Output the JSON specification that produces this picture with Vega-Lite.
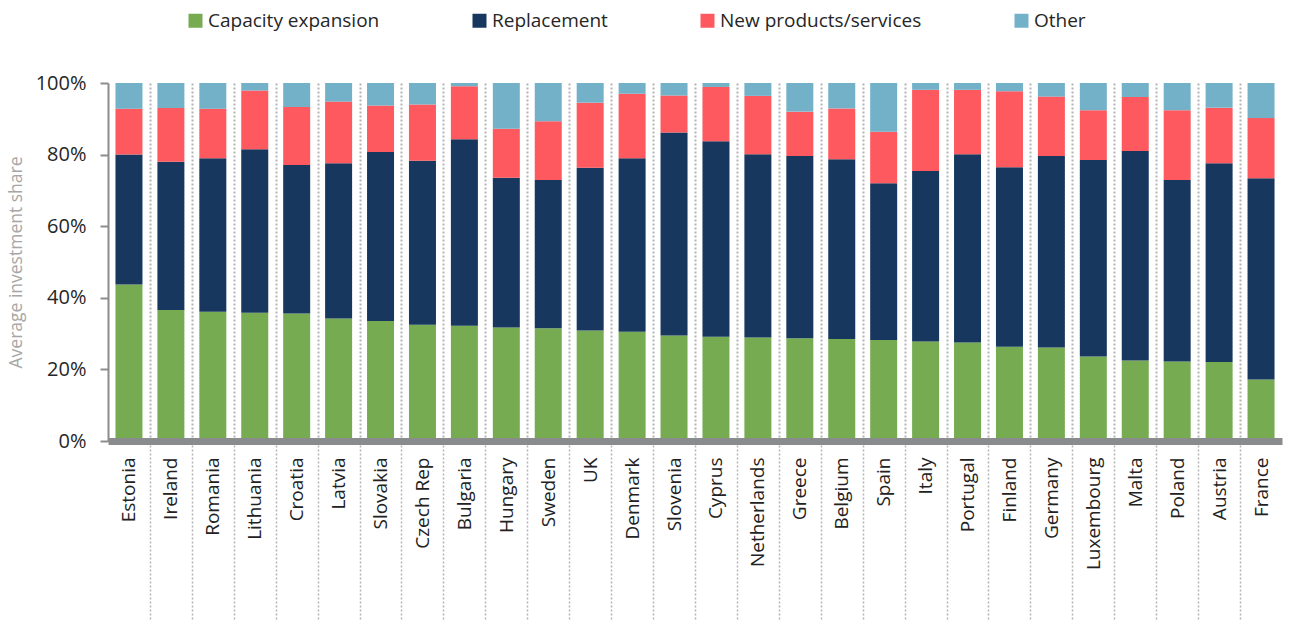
{
  "$schema": "https://vega.github.io/schema/vega-lite/v6.json",
  "autosize": {"type": "none"},
  "width": 1174,
  "height": 358,
  "padding": {"left": 108, "top": 83, "right": 7, "bottom": 180},
  "background": "white",
  "config": {"view": {"stroke": null}, "font": "Open Sans"},
  "data": {
    "values": [
      {"country": "Estonia", "Capacity expansion": 43.7, "Replacement": 36.3, "New products/services": 12.8, "Other": 7.2},
      {"country": "Ireland", "Capacity expansion": 36.6, "Replacement": 41.4, "New products/services": 15.0, "Other": 7.0},
      {"country": "Romania", "Capacity expansion": 36.1, "Replacement": 42.9, "New products/services": 13.8, "Other": 7.2},
      {"country": "Lithuania", "Capacity expansion": 35.8, "Replacement": 45.7, "New products/services": 16.4, "Other": 2.1},
      {"country": "Croatia", "Capacity expansion": 35.6, "Replacement": 41.5, "New products/services": 16.2, "Other": 6.7},
      {"country": "Latvia", "Capacity expansion": 34.2, "Replacement": 43.4, "New products/services": 17.2, "Other": 5.2},
      {"country": "Slovakia", "Capacity expansion": 33.5, "Replacement": 47.2, "New products/services": 13.0, "Other": 6.3},
      {"country": "Czech Rep", "Capacity expansion": 32.5, "Replacement": 45.8, "New products/services": 15.7, "Other": 6.0},
      {"country": "Bulgaria", "Capacity expansion": 32.2, "Replacement": 52.1, "New products/services": 14.8, "Other": 0.9},
      {"country": "Hungary", "Capacity expansion": 31.7, "Replacement": 41.8, "New products/services": 13.7, "Other": 12.8},
      {"country": "Sweden", "Capacity expansion": 31.5, "Replacement": 41.4, "New products/services": 16.4, "Other": 10.7},
      {"country": "UK", "Capacity expansion": 30.9, "Replacement": 45.4, "New products/services": 18.2, "Other": 5.5},
      {"country": "Denmark", "Capacity expansion": 30.5, "Replacement": 48.5, "New products/services": 18.0, "Other": 3.0},
      {"country": "Slovenia", "Capacity expansion": 29.5, "Replacement": 56.7, "New products/services": 10.3, "Other": 3.5},
      {"country": "Cyprus", "Capacity expansion": 29.1, "Replacement": 54.6, "New products/services": 15.2, "Other": 1.1},
      {"country": "Netherlands", "Capacity expansion": 28.9, "Replacement": 51.2, "New products/services": 16.3, "Other": 3.6},
      {"country": "Greece", "Capacity expansion": 28.7, "Replacement": 50.9, "New products/services": 12.4, "Other": 8.0},
      {"country": "Belgium", "Capacity expansion": 28.5, "Replacement": 50.2, "New products/services": 14.2, "Other": 7.1},
      {"country": "Spain", "Capacity expansion": 28.2, "Replacement": 43.8, "New products/services": 14.4, "Other": 13.6},
      {"country": "Italy", "Capacity expansion": 27.8, "Replacement": 47.6, "New products/services": 22.7, "Other": 1.9},
      {"country": "Portugal", "Capacity expansion": 27.5, "Replacement": 52.6, "New products/services": 18.0, "Other": 1.9},
      {"country": "Finland", "Capacity expansion": 26.3, "Replacement": 50.2, "New products/services": 21.2, "Other": 2.3},
      {"country": "Germany", "Capacity expansion": 26.1, "Replacement": 53.5, "New products/services": 16.6, "Other": 3.8},
      {"country": "Luxembourg", "Capacity expansion": 23.6, "Replacement": 54.9, "New products/services": 13.9, "Other": 7.6},
      {"country": "Malta", "Capacity expansion": 22.5, "Replacement": 58.5, "New products/services": 15.1, "Other": 3.9},
      {"country": "Poland", "Capacity expansion": 22.2, "Replacement": 50.7, "New products/services": 19.5, "Other": 7.6},
      {"country": "Austria", "Capacity expansion": 22.1, "Replacement": 55.5, "New products/services": 15.5, "Other": 6.9},
      {"country": "France", "Capacity expansion": 17.2, "Replacement": 56.2, "New products/services": 16.8, "Other": 9.8}
    ]
  },
  "transform": [
    {"fold": ["Capacity expansion", "Replacement", "New products/services", "Other"], "as": ["type", "share"]},
    {"calculate": "indexof(['Capacity expansion','Replacement','New products/services','Other'], datum.type)", "as": "idx"}
  ],
  "mark": {"type": "bar"},
  "encoding": {
    "x": {
      "field": "country",
      "type": "nominal",
      "sort": null,
      "scale": {"paddingInner": 0.356, "paddingOuter": 0.178},
      "axis": {
        "title": null,
        "zindex": 1,
        "domainColor": "#898b8c",
        "domainWidth": 7,
        "grid": true,
        "gridColor": "#b3b3b3",
        "gridWidth": 2,
        "gridDash": [2, 2],
        "gridOpacity": {"condition": {"test": "datum.value === 'France'", "value": 0}, "value": 1},
        "ticks": true,
        "tickSize": 180,
        "tickColor": "#b3b3b3",
        "tickWidth": 1.5,
        "tickDash": [2, 2],
        "tickOpacity": {"condition": {"test": "datum.value === 'France'", "value": 0}, "value": 1},
        "tickOffset": 20.96,
        "labelOffset": -20.96,
        "labelAngle": -90,
        "labelAlign": "right",
        "labelBaseline": "middle",
        "labelPadding": -164,
        "labelFontSize": 19,
        "labelColor": "#222222",
        "labelFont": "Open Sans"
      }
    },
    "y": {
      "field": "share",
      "type": "quantitative",
      "stack": "zero",
      "scale": {"domain": [0, 100], "nice": false},
      "axis": {
        "title": "Average investment share",
        "titleColor": "#a6a6a6",
        "titleFontSize": 17.5,
        "titleFontWeight": "normal",
        "titleFont": "Open Sans",
        "titlePadding": 10,
        "values": [0, 20, 40, 60, 80, 100],
        "labelExpr": "datum.value + '%'",
        "labelFontSize": 20,
        "labelColor": "#262626",
        "labelFont": "Open Sans",
        "labelPadding": 14,
        "grid": false,
        "domainColor": "#8c8c8c",
        "domainWidth": 2,
        "tickColor": "#8c8c8c",
        "tickWidth": 2,
        "tickSize": 8
      }
    },
    "color": {
      "field": "type",
      "type": "nominal",
      "scale": {
        "domain": ["Capacity expansion", "Replacement", "New products/services", "Other"],
        "range": ["#76ab51", "#17375e", "#fe595e", "#72b1c8"]
      },
      "legend": {
        "title": null,
        "orient": "none",
        "direction": "horizontal",
        "legendX": 78,
        "legendY": -72,
        "padding": 0,
        "symbolType": "square",
        "symbolSize": 196,
        "symbolStrokeWidth": 0,
        "labelOffset": 3,
        "columnPadding": 90,
        "labelFontSize": 19,
        "labelColor": "#262626",
        "labelFont": "Open Sans",
        "labelLimit": 400
      }
    },
    "order": {"field": "idx", "type": "quantitative"}
  }
}
